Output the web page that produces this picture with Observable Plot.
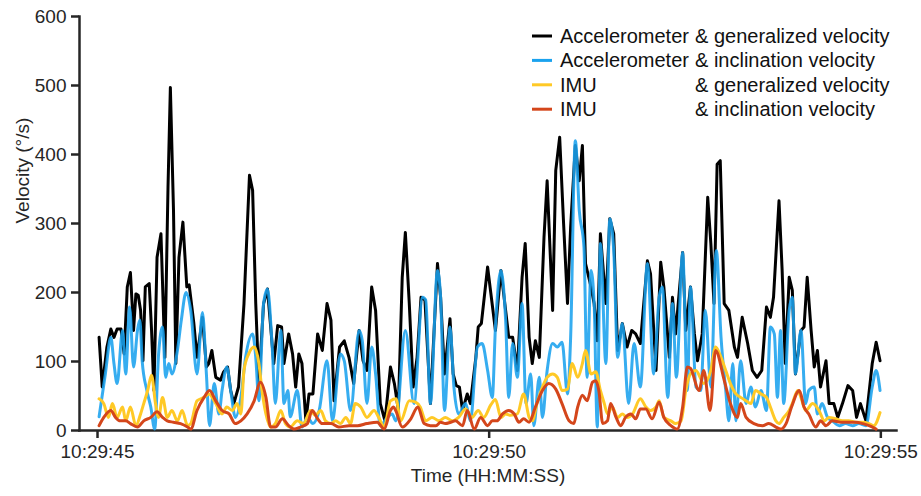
<!DOCTYPE html>
<html>
<head>
<meta charset="utf-8">
<script src="https://cdn.jsdelivr.net/npm/d3@7"></script>
<script src="https://cdn.jsdelivr.net/npm/@observablehq/plot@0.6"></script>
<style>
  html, body { margin: 0; padding: 0; background: #fff; }
  #chart { width: 921px; height: 496px; }
  #chart svg { font-family: "Liberation Sans", Arial, Helvetica, sans-serif; }
</style>
</head>
<body>
<div id="chart"></div>
<script>
// Series: [seconds after 10:29:00, velocity in °/s]
const accGen = [
  [45.02,135],[45.06,63],[45.12,121],[45.17,147],[45.21,135],[45.25,147],[45.30,147],[45.34,111],[45.38,208],[45.42,229],
  [45.46,145],[45.49,198],[45.52,196],[45.55,174],[45.58,101],[45.61,208],[45.66,213],[45.69,145],[45.72,58],[45.76,251],
  [45.81,285],[45.86,106],[45.90,353],[45.93,497],[45.97,319],[46.00,97],[46.04,251],[46.09,302],[46.14,208],[46.17,211],
  [46.23,155],[46.27,106],[46.34,164],[46.39,92],[46.42,97],[46.46,116],[46.51,77],[46.57,73],[46.61,85],[46.66,92],
  [46.70,58],[46.74,39],[46.80,63],[46.87,184],[46.94,370],[46.98,348],[47.02,184],[47.06,68],[47.12,184],[47.17,205],
  [47.25,97],[47.30,152],[47.35,150],[47.38,97],[47.44,140],[47.49,111],[47.53,63],[47.57,111],[47.61,97],[47.66,14],
  [47.70,53],[47.75,53],[47.81,140],[47.87,116],[47.93,184],[47.98,160],[48.02,43],[48.09,121],[48.15,130],[48.21,106],
  [48.27,68],[48.34,145],[48.39,101],[48.44,87],[48.50,208],[48.55,174],[48.61,39],[48.67,14],[48.74,92],[48.79,68],
  [48.84,30],[48.89,222],[48.93,287],[48.98,184],[49.03,63],[49.08,106],[49.13,193],[49.18,189],[49.25,39],[49.34,242],
  [49.38,193],[49.43,82],[49.50,162],[49.54,82],[49.58,65],[49.62,63],[49.66,29],[49.72,53],[49.76,39],[49.83,106],
  [49.86,150],[49.90,155],[49.98,237],[50.02,200],[50.08,145],[50.15,232],[50.21,174],[50.25,135],[50.30,135],[50.36,87],
  [50.42,222],[50.46,271],[50.51,135],[50.55,97],[50.59,130],[50.64,106],[50.70,280],[50.74,362],[50.81,174],[50.85,377],
  [50.90,425],[50.95,300],[51.00,184],[51.04,295],[51.10,413],[51.15,362],[51.19,413],[51.23,242],[51.30,208],[51.34,184],
  [51.38,130],[51.42,285],[51.49,184],[51.54,307],[51.59,285],[51.64,116],[51.70,155],[51.76,121],[51.82,145],[51.87,140],
  [51.93,126],[52.02,246],[52.06,227],[52.13,87],[52.19,244],[52.23,208],[52.30,106],[52.34,193],[52.38,140],[52.47,258],
  [52.51,145],[52.57,208],[52.62,140],[52.66,101],[52.72,140],[52.79,338],[52.83,271],[52.87,184],[52.91,386],[52.95,391],
  [53.00,184],[53.06,174],[53.13,121],[53.17,106],[53.23,164],[53.30,126],[53.36,87],[53.42,77],[53.48,87],[53.54,179],
  [53.59,164],[53.63,193],[53.70,333],[53.74,232],[53.78,97],[53.83,222],[53.87,203],[53.91,82],[53.98,145],[54.02,150],
  [54.06,222],[54.11,145],[54.15,92],[54.19,116],[54.23,63],[54.30,101],[54.34,39],[54.40,39],[54.45,19],[54.51,39],
  [54.58,65],[54.64,58],[54.69,19],[54.74,39],[54.81,14],[54.89,97],[54.94,128],[54.99,101]
];

const accInc = [
  [45.02,20],[45.10,82],[45.17,135],[45.21,97],[45.25,68],[45.32,145],[45.36,82],[45.41,179],[45.46,92],[45.51,145],
  [45.54,160],[45.57,101],[45.63,58],[45.68,34],[45.73,2],[45.78,111],[45.83,150],[45.87,77],[45.91,97],[45.95,82],
  [46.02,116],[46.07,160],[46.13,200],[46.19,174],[46.27,82],[46.34,171],[46.39,82],[46.43,7],[46.49,68],[46.55,24],
  [46.59,58],[46.65,92],[46.70,58],[46.76,19],[46.83,48],[46.89,106],[46.98,140],[47.02,106],[47.06,43],[47.12,184],
  [47.17,205],[47.23,121],[47.27,39],[47.34,145],[47.38,39],[47.43,58],[47.46,20],[47.55,58],[47.61,5],[47.68,19],
  [47.75,10],[47.83,29],[47.93,101],[48.00,14],[48.10,111],[48.15,101],[48.23,29],[48.34,145],[48.38,130],[48.44,39],
  [48.50,121],[48.55,82],[48.61,7],[48.70,19],[48.76,24],[48.81,14],[48.93,145],[49.04,39],[49.15,193],[49.19,189],
  [49.25,39],[49.34,232],[49.38,193],[49.43,29],[49.50,150],[49.55,63],[49.61,24],[49.70,39],[49.76,14],[49.85,121],
  [49.91,126],[49.98,87],[50.04,48],[50.08,150],[50.15,232],[50.21,160],[50.25,48],[50.30,126],[50.36,77],[50.42,184],
  [50.47,39],[50.53,82],[50.57,7],[50.64,77],[50.68,19],[50.74,87],[50.81,126],[50.87,121],[50.93,128],[51.00,53],
  [51.04,135],[51.10,420],[51.15,319],[51.21,266],[51.25,77],[51.30,232],[51.34,184],[51.38,5],[51.42,271],[51.49,97],
  [51.54,307],[51.59,261],[51.64,106],[51.70,155],[51.78,39],[51.85,126],[51.93,63],[52.02,242],[52.10,82],[52.17,193],
  [52.21,208],[52.28,48],[52.34,184],[52.39,77],[52.47,258],[52.53,58],[52.57,208],[52.64,63],[52.70,58],[52.76,174],
  [52.83,63],[52.90,261],[52.96,135],[53.02,58],[53.06,14],[53.11,97],[53.15,14],[53.21,101],[53.28,39],[53.34,63],
  [53.40,34],[53.47,58],[53.54,29],[53.59,150],[53.64,140],[53.68,48],[53.72,145],[53.76,39],[53.83,174],[53.87,193],
  [53.91,82],[53.98,145],[54.04,39],[54.08,58],[54.15,63],[54.19,24],[54.25,39],[54.32,19],[54.38,14],[54.47,7],
  [54.55,10],[54.64,7],[54.72,10],[54.81,7],[54.89,63],[54.94,87],[54.99,58]
];

const imuGen = [
  [45.02,46],[45.08,39],[45.14,19],[45.19,39],[45.25,19],[45.32,34],[45.36,14],[45.42,34],[45.49,7],[45.55,24],
  [45.59,39],[45.64,58],[45.69,80],[45.74,39],[45.78,19],[45.83,48],[45.89,19],[45.95,29],[46.02,14],[46.08,29],
  [46.15,7],[46.19,10],[46.27,43],[46.36,48],[46.42,53],[46.51,39],[46.59,24],[46.65,34],[46.72,29],[46.78,39],
  [46.83,24],[46.87,87],[46.93,111],[47.00,121],[47.06,97],[47.10,58],[47.15,24],[47.21,5],[47.27,10],[47.34,29],
  [47.40,10],[47.46,5],[47.55,14],[47.63,10],[47.72,29],[47.78,22],[47.85,29],[47.91,14],[47.98,10],[48.04,14],
  [48.10,10],[48.17,19],[48.23,10],[48.29,39],[48.36,34],[48.44,19],[48.53,29],[48.59,19],[48.66,5],[48.74,43],
  [48.81,46],[48.87,14],[48.98,43],[49.06,41],[49.12,34],[49.19,14],[49.27,19],[49.36,14],[49.44,19],[49.53,14],
  [49.61,19],[49.70,31],[49.78,19],[49.86,29],[49.93,19],[50.02,37],[50.08,45],[50.15,19],[50.21,24],[50.27,22],
  [50.36,24],[50.44,53],[50.51,19],[50.55,14],[50.61,39],[50.68,63],[50.74,77],[50.81,82],[50.87,77],[50.93,58],
  [51.00,60],[51.06,97],[51.13,77],[51.19,97],[51.23,116],[51.30,82],[51.36,85],[51.42,58],[51.47,39],[51.51,24],
  [51.57,34],[51.64,19],[51.70,24],[51.76,19],[51.83,24],[51.93,46],[52.00,34],[52.06,29],[52.13,34],[52.17,43],
  [52.23,19],[52.32,14],[52.38,10],[52.45,14],[52.51,58],[52.57,82],[52.64,87],[52.74,68],[52.83,87],[52.89,121],
  [52.96,106],[53.02,87],[53.08,68],[53.15,53],[53.21,48],[53.28,43],[53.34,39],[53.40,58],[53.47,53],[53.54,48],
  [53.59,34],[53.66,14],[53.70,10],[53.76,19],[53.83,29],[53.87,39],[53.94,58],[53.98,48],[54.04,29],[54.13,39],
  [54.21,29],[54.28,14],[54.34,19],[54.42,17],[54.51,14],[54.59,14],[54.68,12],[54.77,12],[54.85,10],[54.91,7],
  [54.99,26]
];

const imuInc = [
  [45.02,7],[45.08,19],[45.17,29],[45.23,19],[45.29,14],[45.36,14],[45.42,10],[45.51,5],[45.59,14],[45.68,19],
  [45.76,27],[45.83,19],[45.89,14],[45.97,12],[46.06,10],[46.15,5],[46.19,2],[46.27,29],[46.36,48],[46.43,58],
  [46.51,43],[46.59,29],[46.68,24],[46.76,10],[46.83,14],[46.91,24],[47.00,43],[47.08,70],[47.15,48],[47.21,5],
  [47.27,5],[47.36,17],[47.44,7],[47.51,2],[47.59,5],[47.68,10],[47.74,29],[47.81,17],[47.87,10],[47.98,10],
  [48.08,5],[48.21,7],[48.32,7],[48.44,10],[48.57,12],[48.66,2],[48.74,29],[48.78,34],[48.81,28],[48.89,5],
  [49.00,17],[49.09,34],[49.17,10],[49.25,7],[49.32,7],[49.38,12],[49.44,10],[49.51,12],[49.57,14],[49.66,7],
  [49.72,29],[49.81,2],[49.89,19],[49.98,7],[50.04,14],[50.10,14],[50.17,24],[50.25,29],[50.32,24],[50.38,12],
  [50.44,17],[50.51,12],[50.59,34],[50.68,58],[50.76,68],[50.85,60],[50.93,39],[51.02,14],[51.08,10],[51.13,34],
  [51.19,51],[51.25,43],[51.32,70],[51.36,72],[51.40,58],[51.45,10],[51.51,14],[51.55,39],[51.62,19],[51.68,7],
  [51.74,19],[51.81,24],[51.87,17],[51.93,31],[52.00,31],[52.08,17],[52.17,41],[52.23,19],[52.32,7],[52.40,2],
  [52.47,34],[52.53,92],[52.57,90],[52.68,58],[52.74,87],[52.82,29],[52.89,116],[53.00,73],[53.08,39],[53.17,19],
  [53.21,39],[53.28,19],[53.38,10],[53.49,7],[53.57,10],[53.66,5],[53.72,2],[53.79,10],[53.86,34],[53.96,58],
  [54.02,34],[54.08,24],[54.17,5],[54.23,14],[54.30,7],[54.38,14],[54.49,12],[54.59,12],[54.68,12],[54.77,10],
  [54.85,7],[54.94,2]
];

const sensorNames = ["Accelerometer", "Accelerometer", "IMU", "IMU"];
const velocityNames = ["& generalized velocity", "& inclination velocity", "& generalized velocity", "& inclination velocity"];
const seriesColors = ["#000000", "#1aa2ee", "#ffc926", "#d4461b"];
const seriesOpacity = [1, 0.88, 1, 1];
const seriesCurves = ["linear", "monotone-x", "monotone-x", "monotone-x"];
const seriesData = [accGen, accInc, imuGen, imuInc];

const xTicks = [45, 50, 55];
const yTicks = [0, 100, 200, 300, 400, 500, 600];
const xTitle = "Time (HH:MM:SS)";
const yTitle = "Velocity (°/s)";

const axisColor = "#262626";
const fmtTime = s => `10:29:${String(s).padStart(2, "0")}`;

const lines = seriesData.map((rows, i) =>
  Plot.lineY(rows, {
    x: d => d[0],
    y: d => d[1],
    curve: seriesCurves[i],
    stroke: seriesColors[i],
    strokeOpacity: seriesOpacity[i],
    strokeWidth: 3,
    strokeLinejoin: "round",
    strokeLinecap: "round"
  })
);

const chart = Plot.plot({
  width: 921,
  height: 496,
  marginLeft: 79,
  marginRight: 25,
  marginTop: 16,
  marginBottom: 66,
  style: { fontFamily: "'Liberation Sans', Arial, sans-serif", fontSize: "19px", color: axisColor, background: "#fff", overflow: "visible" },
  x: { domain: [44.77, 55.2], label: null },
  y: { domain: [0, 600], label: null },
  marks: [
    Plot.axisY({ ticks: yTicks, tickSize: 8, tickPadding: 5, tickFormat: d => String(d), label: null, stroke: axisColor, strokeWidth: 2.5, fill: axisColor, fontSize: 19 }),
    Plot.axisX({ ticks: xTicks, tickSize: 8, tickPadding: 6, tickFormat: fmtTime, label: null, stroke: axisColor, strokeWidth: 2.5, fill: axisColor, fontSize: 19 }),
    Plot.frame({ anchor: "left", stroke: axisColor, strokeWidth: 2.5 }),
    Plot.frame({ anchor: "bottom", stroke: axisColor, strokeWidth: 2.5 }),
    ...lines,
    Plot.text([xTitle], { frameAnchor: "bottom", dy: 51, fill: axisColor, fontSize: 19 }),
    Plot.text([yTitle], { frameAnchor: "left", dx: -57, rotate: -90, fill: axisColor, fontSize: 19 })
  ]
});

document.getElementById("chart").appendChild(chart);

// Legend in the upper right of the plot area
const svg = d3.select(chart);
const legend = svg.append("g")
  .attr("font-size", 20)
  .attr("fill", "#111")
  .attr("text-anchor", "start");
const legendTop = 36, legendStep = 24.4;
seriesColors.forEach((c, i) => {
  const y = legendTop + i * legendStep;
  legend.append("line")
    .attr("x1", 532).attr("x2", 552).attr("y1", y).attr("y2", y)
    .attr("stroke", c).attr("stroke-width", 3);
  legend.append("text").attr("x", 560).attr("y", y).attr("dy", "0.35em").attr("text-anchor", "start").text(sensorNames[i]);
  legend.append("text").attr("x", 695).attr("y", y).attr("dy", "0.35em").attr("text-anchor", "start").text(velocityNames[i]);
});
</script>
</body>
</html>
